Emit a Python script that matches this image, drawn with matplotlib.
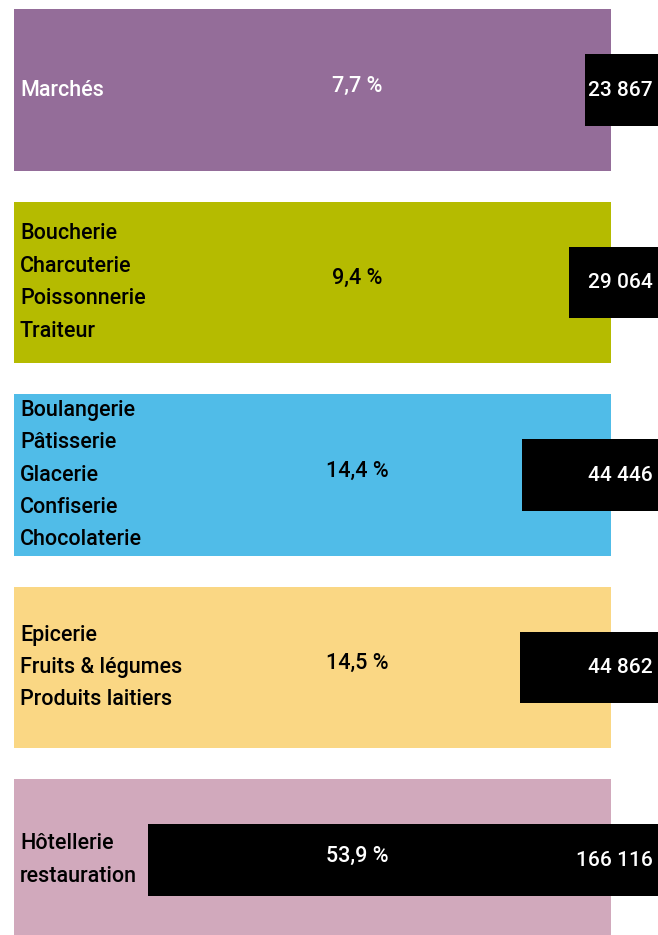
import matplotlib
matplotlib.use("Agg")
from matplotlib import pyplot as plt

plt.rcParams['font.family'] = ['Roboto', 'DejaVu Sans']

# data
labels = ["Marchés",
          "Boucherie\nCharcuterie\nPoissonnerie\nTraiteur",
          "Boulangerie\nPâtisserie\nGlacerie\nConfiserie\nChocolaterie",
          "Epicerie\nFruits & légumes\nProduits laitiers",
          "Hôtellerie\nrestauration"]
values = [23867, 29064, 44446, 44862, 166116]
shares = ["7,7 %", "9,4 %", "14,4 %", "14,5 %", "53,9 %"]
value_labels = ["23 867", "29 064", "44 446", "44 862", "166 116"]

panel_colors = ["#946d99", "#b5bb00", "#50bce8", "#fad784", "#d1a9bc"]
label_colors = ["white", "black", "black", "black", "black"]
share_colors = ["white", "black", "black", "black", "white"]

fig = plt.figure(figsize=(6.58, 9.35), dpi=100)
ax = fig.add_axes([0, 0, 1, 1])

step = 192.5
ax.set_ylim((935 - 90) / step, -90 / step)
ax.set_xlim(max(values) * 658 / 510, 0)
ax.axis('off')

for i in range(len(values)):
    ax.axhspan(i - 0.42, i + 0.42, xmin=14 / 658, xmax=611 / 658,
               color=panel_colors[i], lw=0, zorder=1)

ax.barh(range(len(values)), values, height=0.37, color="black", zorder=2)

tr = ax.get_yaxis_transform()
for i in range(len(values)):
    ax.text(20 / 658, i, labels[i], transform=tr, ha="left", va="center",
            fontsize=15.5, fontweight="medium", linespacing=1.71,
            color=label_colors[i], zorder=3)
    ax.text(357 / 658, i - 0.02, shares[i], transform=tr, ha="center", va="center",
            fontsize=15.5, fontweight="medium", color=share_colors[i], zorder=3)
    ax.text(653 / 658, i, value_labels[i], transform=tr, ha="right", va="center",
            fontsize=15, fontweight="medium", color="white", zorder=3)

fig.savefig("out.png", dpi=100)
